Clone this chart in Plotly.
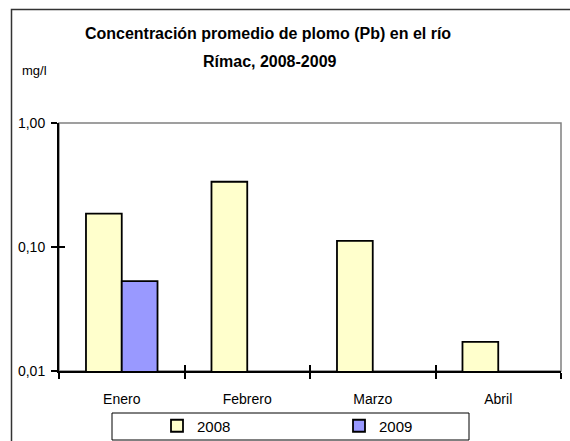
import plotly.graph_objects as go

months = ["Enero", "Febrero", "Marzo", "Abril"]
v2008 = [0.186, 0.336, 0.112, 0.0172]
v2009 = [0.053, None, None, None]
ytick_vals = [0.01, 0.1, 1.0]
ytick_text = ["0,01", "0,10", "1,00"]
title_l1 = "Concentración promedio de plomo (Pb) en el río"
title_l2 = "Rímac, 2008-2009"
unit = "mg/l"

FONT = "Liberation Sans, Arial, sans-serif"

fig = go.Figure()
fig.add_trace(go.Bar(name="2008", x=months, y=v2008,
                     marker=dict(color="#FFFFCC", line=dict(color="black", width=1.8))))
fig.add_trace(go.Bar(name="2009", x=months, y=v2009,
                     marker=dict(color="#9999FF", line=dict(color="black", width=1.8))))
fig.add_trace(go.Scatter(x=[], y=[], xaxis="x2", yaxis="y2", showlegend=False, hoverinfo="skip"))

W, H = 570, 441
L, R, T, B = 59, 9, 123, 70
pw, ph = W - L - R, H - T - B

def px(x):
    return (x - L) / pw

def py(y):
    return (H - B - y) / ph

fig.update_layout(
    width=W, height=H,
    margin=dict(l=L, r=R, t=T, b=B, autoexpand=False),
    paper_bgcolor="white", plot_bgcolor="white",
    font=dict(family=FONT, size=14, color="black"),
    barmode="group", bargap=0.43, bargroupgap=0,
    title=dict(text="<b>" + title_l1 + "</b>", x=268 / W, xanchor="center",
               y=1 - 33 / H, yanchor="middle", font=dict(size=16, family=FONT)),
    showlegend=True,
    legend=dict(orientation="h", x=px(157), xanchor="left", y=py(426), yanchor="middle",
                bgcolor="rgba(0,0,0,0)", entrywidth=137, entrywidthmode="pixels",
                font=dict(size=15, family=FONT), traceorder="normal"),
    xaxis=dict(type="category", showline=True, linecolor="black", linewidth=2,
               ticks="outside", ticklen=6, tickwidth=2, tickcolor="black",
               tickson="boundaries", showgrid=False, zeroline=False,
               ticklabelstandoff=14),
    yaxis=dict(type="log", range=[-2, 0], showline=True, linecolor="black", linewidth=2,
               tickvals=ytick_vals, ticktext=ytick_text,
               ticks="outside", ticklen=6, tickwidth=2, tickcolor="black",
               showgrid=False, zeroline=False, ticklabelstandoff=3),
    xaxis2=dict(overlaying="x", anchor="y2", range=[-0.5, 3.5],
                tickvals=[-0.5, 0.5, 1.5, 2.5, 3.5], ticks="inside", ticklen=6,
                tickwidth=2, tickcolor="black", showticklabels=False,
                showgrid=False, zeroline=False, showline=False),
    yaxis2=dict(overlaying="y", anchor="x2", side="left", type="log", range=[-2, 0],
                tickvals=ytick_vals, ticks="inside", ticklen=6, tickwidth=2,
                tickcolor="black", showticklabels=False, showgrid=False,
                zeroline=False, showline=False),
    shapes=[
        dict(type="rect", xref="paper", yref="paper", x0=0, x1=1, y0=0, y1=1,
             line=dict(color="#808080", width=1.5), layer="below"),
        dict(type="path", xref="paper", yref="paper",
             path=f"M {px(11.5)} {py(460)} L {px(11.5)} {py(9.5)} L {px(600)} {py(9.5)}",
             line=dict(color="#333333", width=1.5)),
        dict(type="rect", xref="paper", yref="paper", x0=px(112), x1=px(469),
             y0=py(440), y1=py(413), line=dict(color="black", width=1),
             fillcolor="rgba(0,0,0,0)"),
    ],
    annotations=[
        dict(text="<b>" + title_l2 + "</b>", xref="paper", yref="paper",
             x=px(270), y=py(61), xanchor="center", yanchor="middle",
             showarrow=False, font=dict(size=16, family=FONT)),
        dict(text=unit, xref="paper", yref="paper", x=px(20), y=py(70),
             xanchor="left", yanchor="middle", showarrow=False,
             font=dict(size=13, family=FONT)),
    ],
)

fig.write_html("out.html", config={"displayModeBar": False},
               post_script="document.body.style.margin='0';document.body.style.overflow='hidden';")
